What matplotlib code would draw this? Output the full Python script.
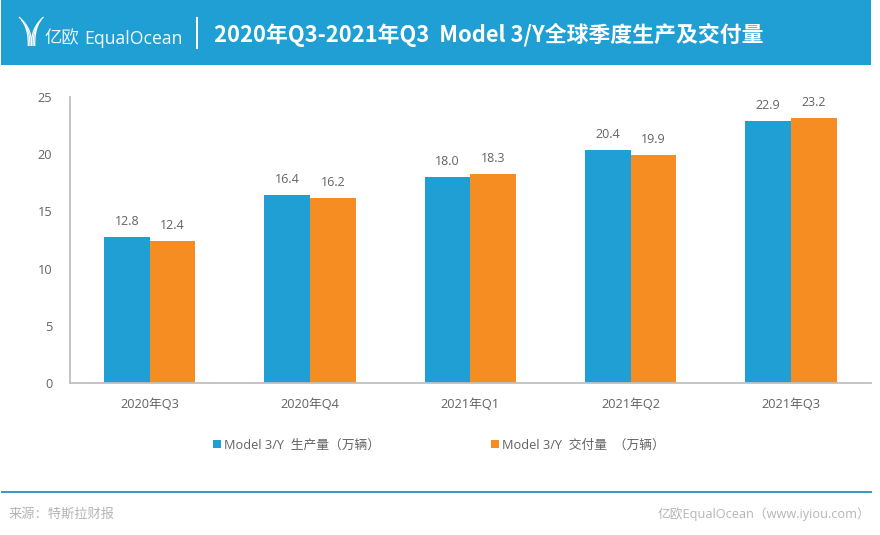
import numpy as np
import matplotlib
matplotlib.use('Agg')
import matplotlib.pyplot as plt
from matplotlib.patches import Rectangle

CJK = ['Open Sans', 'Noto Sans CJK SC', 'DejaVu Sans']
plt.rcParams['font.family'] = CJK

categories = ['2020年Q3', '2020年Q4', '2021年Q1', '2021年Q2', '2021年Q3']
production = [12.8, 16.4, 18.0, 20.4, 22.9]
delivery = [12.4, 16.2, 18.3, 19.9, 23.2]
series_names = ['Model 3/Y  生产量（万辆）', 'Model 3/Y  交付量  （万辆）']
title = '2020年Q3-2021年Q3  Model 3/Y全球季度生产及交付量'

W, H = 880, 535
BLUE = '#1f9fd4'
ORANGE = '#f58d23'
TEAL = '#3a9cc4'
GREY = '#636363'

fig = plt.figure(figsize=(W / 100, H / 100), dpi=100, facecolor='white')

def px_axes(l, t, r, b):
    return fig.add_axes([l / W, 1 - b / H, (r - l) / W, (b - t) / H])

def ftext(x, y, s, **kw):
    return fig.text(x / W, 1 - y / H, s, **kw)

# header
fig.add_artist(Rectangle((1 / W, 1 - 65 / H), 870 / W, 65 / H, transform=fig.transFigure,
                         facecolor=BLUE, edgecolor='none', zorder=-2))
fig.add_artist(Rectangle((196 / W, 1 - 49 / H), 2 / W, 32 / H, transform=fig.transFigure,
                         facecolor='white', edgecolor='none'))
ftext(214, 34.5, title, color='white', fontsize=15.75, fontweight='bold', va='center', ha='left',
      family=['Noto Sans CJK SC', 'DejaVu Sans'])

# logo
logo = px_axes(17, 15, 45, 48)
logo.patch.set_alpha(0)
logo.set_xlim(17, 45); logo.set_ylim(48, 15); logo.axis('off')
for dx, top in zip([0, 1.6, 3.2], [17, 20, 23]):
    t = np.linspace(0, 1, 30)
    for sgn, end in ((-1, 19), (1, 43.5)):
        cx = 31.5 + sgn * dx
        x = cx + (end - sgn * dx * 1.5 - cx) * (1 - t) ** 2.6
        y = top + (46 - top) * t
        logo.plot(x, y, color='white', lw=0.9, solid_capstyle='butt')
ftext(45, 39, '亿欧', color='white', fontsize=12.5, va='center', ha='left', alpha=0.9)
ftext(84, 39, 'EqualOcean', color='white', fontsize=12.7, va='center', ha='left', alpha=0.95)

# chart
ax = px_axes(69.5, 97, 871, 383)
x = np.arange(len(categories))
bw = 0.285
b1 = ax.bar(x - bw / 2, production, bw, color=BLUE, label=series_names[0])
b2 = ax.bar(x + bw / 2, delivery, bw, color=ORANGE, label=series_names[1])
ax.set_xlim(-0.5, len(categories) - 0.5)
ax.set_ylim(0, 25)
ax.set_xticks(x, categories)
ax.set_yticks(range(0, 26, 5))
ax.tick_params(length=0, labelsize=9.2, colors=GREY)
ax.tick_params(axis='x', pad=10.5)
ax.tick_params(axis='y', pad=12.5)
for s in ('top', 'right'):
    ax.spines[s].set_visible(False)
for s in ('left', 'bottom'):
    ax.spines[s].set_color('#bfbfbf')
    ax.spines[s].set_linewidth(1.3)
for bars, vals in ((b1, production), (b2, delivery)):
    for r, v in zip(bars, vals):
        ax.annotate(f'{v:.1f}', (r.get_x() + r.get_width() / 2, v), xytext=(0, 6.5),
                    textcoords='offset points', ha='center', va='bottom',
                    fontsize=9, color=GREY)

# legend
for px, col, name in ((213, BLUE, series_names[0]), (491, ORANGE, series_names[1])):
    fig.add_artist(Rectangle((px / W, 1 - 447.5 / H), 7.5 / W, 7.5 / H, transform=fig.transFigure,
                             facecolor=col, edgecolor='none'))
    ftext(px + 11, 445, name, color=GREY, fontsize=9.2, va='center', ha='left')

# footer
fig.add_artist(Rectangle((1 / W, 1 - 493 / H), 871 / W, 2 / H, transform=fig.transFigure,
                         facecolor=TEAL, edgecolor='none'))
ftext(9, 514, '来源：特斯拉财报', color='#b5b5b5', fontsize=9.5, va='center', ha='left')
ftext(870, 514, '亿欧EqualOcean（www.iyiou.com）', color='#b5b5b5', fontsize=9.15, va='center', ha='right')

fig.savefig('out.png', dpi=100)
